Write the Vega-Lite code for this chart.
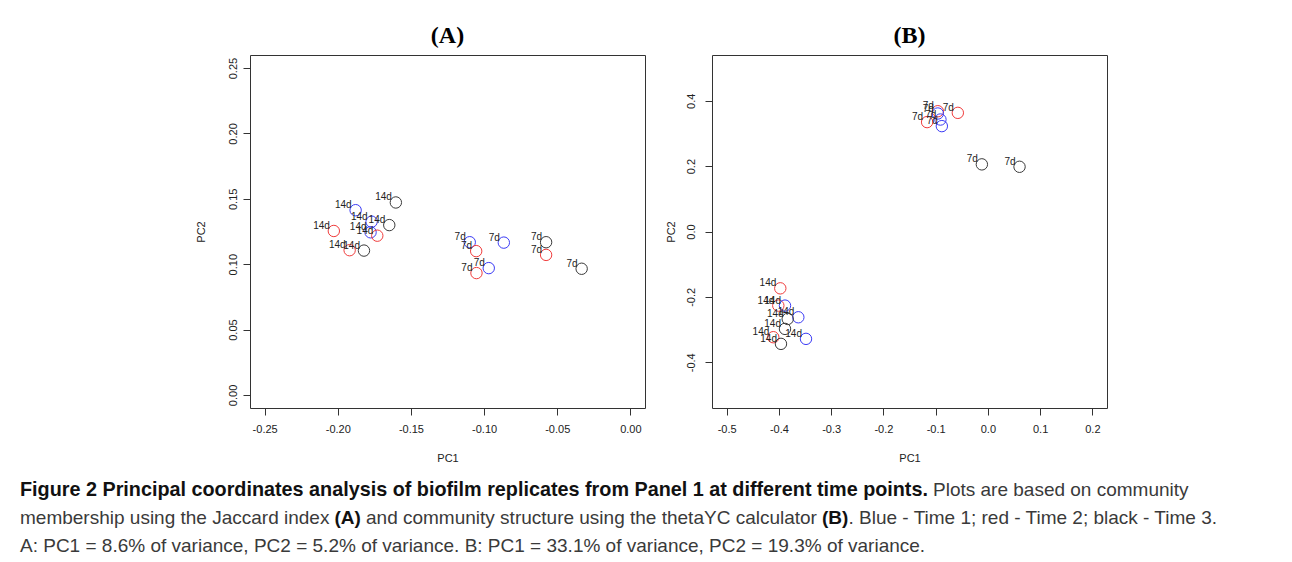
{
  "$schema": "https://vega.github.io/schema/vega-lite/v6.json",
  "background": "white",
  "padding": {"left": 20, "top": 23, "right": 0, "bottom": 0},
  "spacing": 12,
  "config": {
    "view": {"stroke": "#333333", "strokeWidth": 1},
    "axis": {
      "grid": false,
      "domain": false,
      "tickColor": "#333333",
      "tickSize": 7,
      "labelFont": "Liberation Sans",
      "labelFontSize": 11,
      "labelColor": "#222222",
      "titleFont": "Liberation Sans",
      "titleFontSize": 11,
      "titleFontWeight": "normal",
      "titleColor": "#222222"
    },
    "title": {"font": "Liberation Serif", "fontSize": 24, "fontWeight": "bold", "baseline": "alphabetic", "offset": 7, "color": "#000000"}
  },
  "datasets": {
    "points": [
      {"panel": "A", "pc1": -0.1878, "pc2": 0.1413, "time": "Time 1", "label": "14d"},
      {"panel": "A", "pc1": -0.1769, "pc2": 0.1325, "time": "Time 1", "label": "14d"},
      {"panel": "A", "pc1": -0.1776, "pc2": 0.1244, "time": "Time 1", "label": "14d"},
      {"panel": "A", "pc1": -0.2027, "pc2": 0.1254, "time": "Time 2", "label": "14d"},
      {"panel": "A", "pc1": -0.1730, "pc2": 0.1218, "time": "Time 2", "label": "14d"},
      {"panel": "A", "pc1": -0.1919, "pc2": 0.1107, "time": "Time 2", "label": "14d"},
      {"panel": "A", "pc1": -0.1603, "pc2": 0.1472, "time": "Time 3", "label": "14d"},
      {"panel": "A", "pc1": -0.1648, "pc2": 0.1299, "time": "Time 3", "label": "14d"},
      {"panel": "A", "pc1": -0.1821, "pc2": 0.1104, "time": "Time 3", "label": "14d"},
      {"panel": "A", "pc1": -0.1098, "pc2": 0.1168, "time": "Time 1", "label": "7d"},
      {"panel": "A", "pc1": -0.0865, "pc2": 0.1165, "time": "Time 1", "label": "7d"},
      {"panel": "A", "pc1": -0.0968, "pc2": 0.0970, "time": "Time 1", "label": "7d"},
      {"panel": "A", "pc1": -0.1054, "pc2": 0.1100, "time": "Time 2", "label": "7d"},
      {"panel": "A", "pc1": -0.0576, "pc2": 0.1071, "time": "Time 2", "label": "7d"},
      {"panel": "A", "pc1": -0.1052, "pc2": 0.0932, "time": "Time 2", "label": "7d"},
      {"panel": "A", "pc1": -0.0576, "pc2": 0.1168, "time": "Time 3", "label": "7d"},
      {"panel": "A", "pc1": -0.0333, "pc2": 0.0965, "time": "Time 3", "label": "7d"},
      {"panel": "B", "pc1": -0.0958, "pc2": 0.3680, "time": "Time 2", "label": "7d"},
      {"panel": "B", "pc1": -0.1163, "pc2": 0.3347, "time": "Time 2", "label": "7d"},
      {"panel": "B", "pc1": -0.0575, "pc2": 0.3630, "time": "Time 2", "label": "7d"},
      {"panel": "B", "pc1": -0.0958, "pc2": 0.3610, "time": "Time 1", "label": "7d"},
      {"panel": "B", "pc1": -0.0908, "pc2": 0.3426, "time": "Time 1", "label": "7d"},
      {"panel": "B", "pc1": -0.0881, "pc2": 0.3224, "time": "Time 1", "label": "7d"},
      {"panel": "B", "pc1": -0.0115, "pc2": 0.2054, "time": "Time 3", "label": "7d"},
      {"panel": "B", "pc1": 0.0606, "pc2": 0.1980, "time": "Time 3", "label": "7d"},
      {"panel": "B", "pc1": -0.3973, "pc2": -0.1739, "time": "Time 2", "label": "14d"},
      {"panel": "B", "pc1": -0.4011, "pc2": -0.2267, "time": "Time 2", "label": "14d"},
      {"panel": "B", "pc1": -0.4107, "pc2": -0.3234, "time": "Time 2", "label": "14d"},
      {"panel": "B", "pc1": -0.3883, "pc2": -0.2267, "time": "Time 1", "label": "14d"},
      {"panel": "B", "pc1": -0.3628, "pc2": -0.2624, "time": "Time 1", "label": "14d"},
      {"panel": "B", "pc1": -0.3481, "pc2": -0.3285, "time": "Time 1", "label": "14d"},
      {"panel": "B", "pc1": -0.3831, "pc2": -0.2675, "time": "Time 3", "label": "14d"},
      {"panel": "B", "pc1": -0.3883, "pc2": -0.2980, "time": "Time 3", "label": "14d"},
      {"panel": "B", "pc1": -0.3960, "pc2": -0.3438, "time": "Time 3", "label": "14d"}
    ],
    "caption": [
      {"line": 1, "part": "title", "text": "Figure 2 Principal coordinates analysis of biofilm replicates from Panel 1 at different time points."},
      {"line": 1, "part": "lead", "text": "Plots are based on community"},
      {"line": 2, "part": "start", "text": "membership using the Jaccard index"},
      {"line": 2, "part": "refA", "text": "(A)"},
      {"line": 2, "part": "mid", "text": "and community structure using the thetaYC calculator"},
      {"line": 2, "part": "refB", "text": "(B)"},
      {"line": 2, "part": "end", "text": ". Blue - Time 1; red - Time 2; black - Time 3."},
      {"line": 3, "part": "start", "text": "A: PC1 = 8.6% of variance, PC2 = 5.2% of variance. B: PC1 = 33.1% of variance, PC2 = 19.3% of variance."}
    ]
  },
  "vconcat": [
    {
      "spacing": 18,
      "hconcat": [
        {
          "width": 156,
          "height": 300,
          "view": {"stroke": null},
          "data": {"values": [{}]},
          "mark": {"type": "text"},
          "encoding": {"text": {"value": ""}}
        },
        {
          "width": 395,
          "height": 353,
          "title": {"text": "(A)"},
          "data": {"name": "points"},
          "transform": [{"filter": "datum.panel === 'A'"}],
          "encoding": {
            "x": {"field": "pc1", "type": "quantitative",
                  "scale": {"domain": [-0.26, 0.01], "nice": false, "zero": false},
                  "axis": {"title": "PC1", "values": [-0.25, -0.2, -0.15, -0.1, -0.05, 0], "format": ".2f", "labelExpr": "replace(datum.label, '\u2212', '-')", "labelPadding": 8, "titlePadding": 18, "labelFlush": false}},
            "y": {"field": "pc2", "type": "quantitative",
                  "scale": {"domain": [-0.01, 0.26], "nice": false, "zero": false},
                  "axis": {"title": "PC2", "values": [0, 0.05, 0.1, 0.15, 0.2, 0.25], "format": ".2f", "labelAngle": -90, "labelAlign": "center", "labelBaseline": "bottom", "labelPadding": 5, "titlePadding": 21, "labelFlush": false}}
          },
          "layer": [
            {"mark": {"type": "point", "shape": "circle", "filled": false, "size": 130, "strokeWidth": 1, "opacity": 1},
             "encoding": {"color": {"field": "time", "type": "nominal", "legend": null,
                                    "scale": {"domain": ["Time 1", "Time 2", "Time 3"], "range": ["#3b3bf5", "#f03c3c", "#3a3a3a"]}}}},
            {"mark": {"type": "text", "align": "right", "baseline": "middle", "dx": -4, "dy": -5, "font": "Liberation Sans", "fontSize": 10, "color": "#222222"},
             "encoding": {"text": {"field": "label"}}}
          ]
        },
        {
          "width": 395,
          "height": 353,
          "title": {"text": "(B)"},
          "data": {"name": "points"},
          "transform": [{"filter": "datum.panel === 'B'"}],
          "encoding": {
            "x": {"field": "pc1", "type": "quantitative",
                  "scale": {"domain": [-0.528, 0.228], "nice": false, "zero": false},
                  "axis": {"title": "PC1", "values": [-0.5, -0.4, -0.3, -0.2, -0.1, 0, 0.1, 0.2], "format": ".1f", "labelExpr": "replace(datum.label, '\u2212', '-')", "labelPadding": 8, "titlePadding": 18, "labelFlush": false}},
            "y": {"field": "pc2", "type": "quantitative",
                  "scale": {"domain": [-0.54, 0.54], "nice": false, "zero": false},
                  "axis": {"title": "PC2", "values": [-0.4, -0.2, 0, 0.2, 0.4], "format": ".1f", "labelExpr": "replace(datum.label, '\u2212', '-')", "labelAngle": -90, "labelAlign": "center", "labelBaseline": "bottom", "labelPadding": 9, "titlePadding": 9, "labelFlush": false}}
          },
          "layer": [
            {"mark": {"type": "point", "shape": "circle", "filled": false, "size": 130, "strokeWidth": 1, "opacity": 1},
             "encoding": {"color": {"field": "time", "type": "nominal", "legend": null,
                                    "scale": {"domain": ["Time 1", "Time 2", "Time 3"], "range": ["#3b3bf5", "#f03c3c", "#3a3a3a"]}}}},
            {"mark": {"type": "text", "align": "right", "baseline": "middle", "dx": -4, "dy": -5, "font": "Liberation Sans", "fontSize": 10, "color": "#222222"},
             "encoding": {"text": {"field": "label"}}}
          ]
        }
      ]
    },
    {
      "width": 1250,
      "height": 84,
      "view": {"stroke": null},
      "data": {"name": "caption"},
      "encoding": {
        "y": {"field": "line", "type": "ordinal", "axis": null},
        "x": {"datum": 0, "type": "quantitative", "scale": {"domain": [0, 1]}, "axis": null},
        "text": {"field": "text"}
      },
      "layer": [
        {"transform": [{"filter": "datum.part === 'title'"}],
         "mark": {"type": "text", "align": "left", "baseline": "middle", "font": "Liberation Sans", "fontSize": 19.8, "fontWeight": "bold", "color": "#111111"}},
        {"transform": [{"filter": "datum.part === 'lead'"}],
         "mark": {"type": "text", "align": "left", "baseline": "middle", "dx": 913, "font": "Liberation Sans", "fontSize": 19, "color": "#3a3a3a"}},
        {"transform": [{"filter": "datum.part === 'start'"}],
         "mark": {"type": "text", "align": "left", "baseline": "middle", "font": "Liberation Sans", "fontSize": 19, "color": "#3a3a3a"}},
        {"transform": [{"filter": "datum.part === 'refA'"}],
         "mark": {"type": "text", "align": "left", "baseline": "middle", "dx": 314.5, "font": "Liberation Sans", "fontSize": 19, "fontWeight": "bold", "color": "#111111"}},
        {"transform": [{"filter": "datum.part === 'mid'"}],
         "mark": {"type": "text", "align": "left", "baseline": "middle", "dx": 346, "font": "Liberation Sans", "fontSize": 19, "color": "#3a3a3a"}},
        {"transform": [{"filter": "datum.part === 'refB'"}],
         "mark": {"type": "text", "align": "left", "baseline": "middle", "dx": 802, "font": "Liberation Sans", "fontSize": 19, "fontWeight": "bold", "color": "#111111"}},
        {"transform": [{"filter": "datum.part === 'end'"}],
         "mark": {"type": "text", "align": "left", "baseline": "middle", "dx": 828.5, "font": "Liberation Sans", "fontSize": 19, "color": "#3a3a3a"}}
      ]
    }
  ]
}
